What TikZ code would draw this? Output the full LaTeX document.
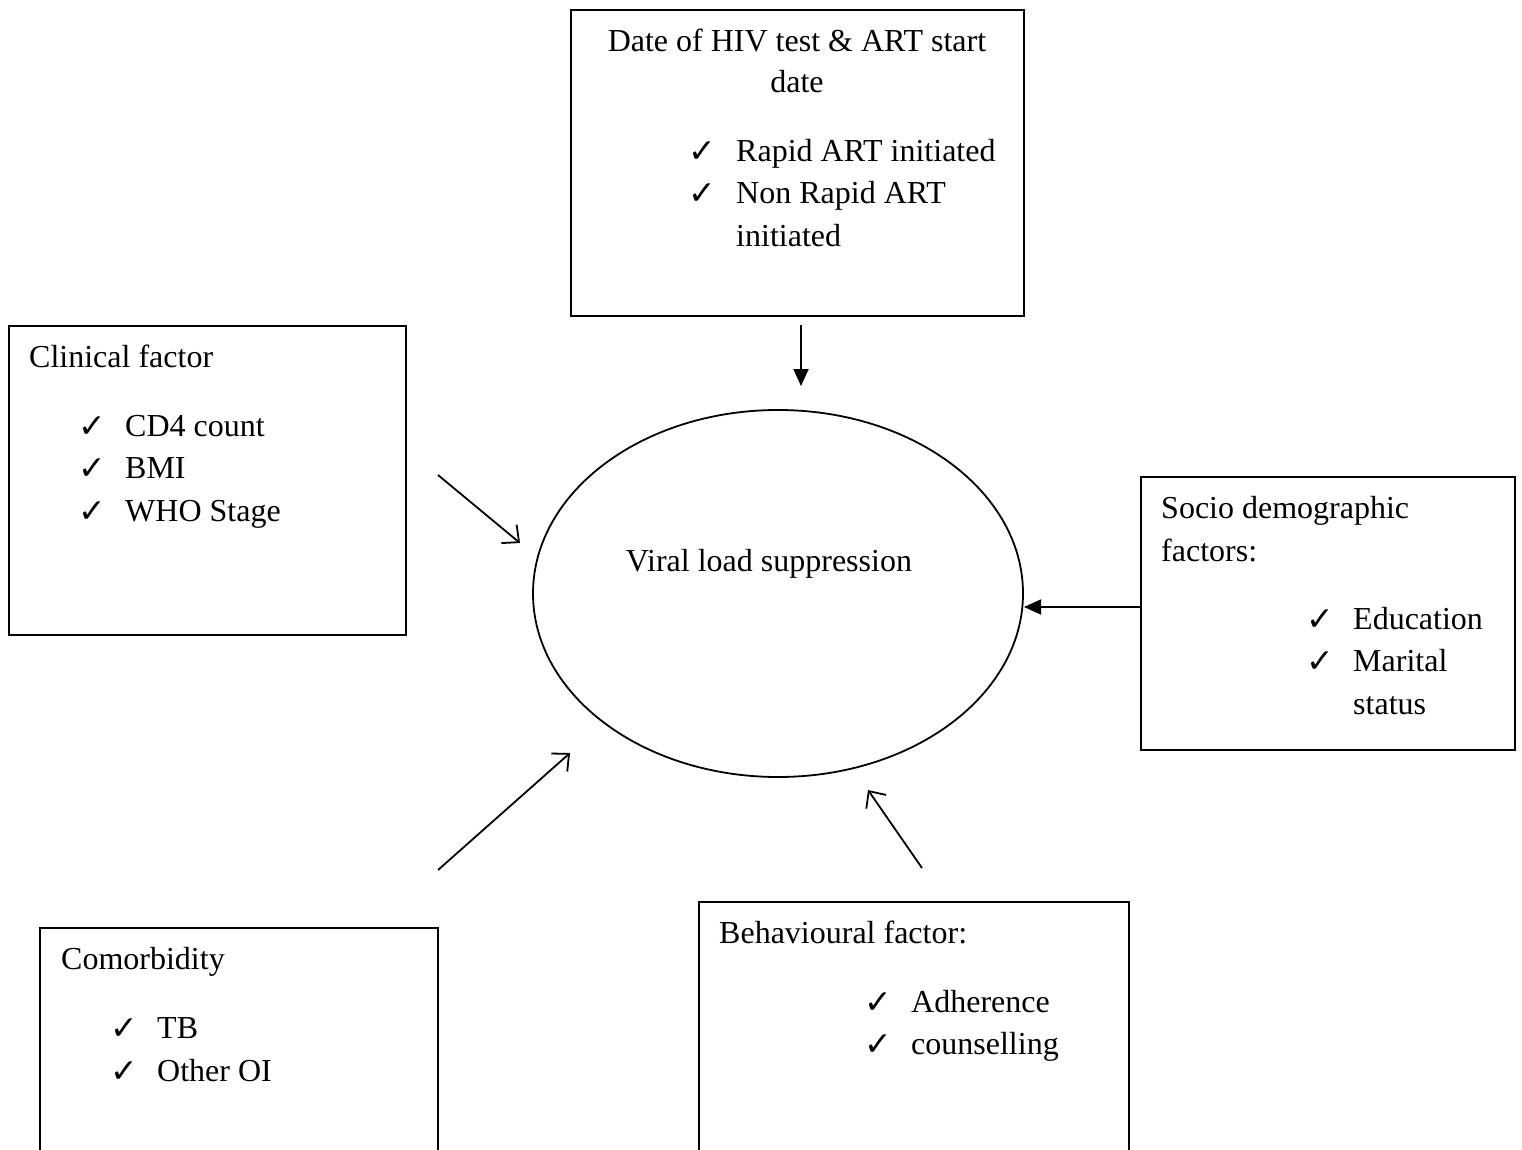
\documentclass[tikz,border=0pt]{standalone}
\usepackage{fontspec}
\setmainfont{Liberation Serif}
\newfontfamily\chkfont{DejaVu Sans}
\usetikzlibrary{arrows.meta,shapes.geometric}
\tikzset{
  box/.style={draw, line width=1.8, rectangle, inner sep=0, fill=none},
  txt/.style={inner sep=0, anchor=base west, font=\fontsize{32}{43}\selectfont},
  ctxt/.style={inner sep=0, anchor=base, font=\fontsize{32}{43}\selectfont},
  chk/.style={inner sep=0, anchor=base west, font=\chkfont\fontsize{33}{36}\selectfont},
  filledarrow/.style={line width=1.8, -{Triangle[length=17,width=15]}},
  openarrow/.style={line width=1.8, -{Straight Barb[length=13,width=24,line width=1.8]}},
}
\begin{document}
\begin{tikzpicture}[x=1pt,y=-1pt]
\useasboundingbox (0,0) rectangle (1522,1150);
\clip (0,0) rectangle (1522,1150);
% boxes
\node[box, minimum width=453, minimum height=306] (topbox) at (797.5,163) {};
\node[box, minimum width=397, minimum height=309] (clinbox) at (207.5,480.5) {};
\node[box, minimum width=374, minimum height=273] (sociobox) at (1328,613.5) {};
\node[box, minimum width=398, minimum height=400] (comorbox) at (239,1128) {};
\node[box, minimum width=430, minimum height=400] (behavbox) at (914,1102) {};
\node[draw, line width=1.8, ellipse, minimum width=490, minimum height=367, inner sep=0] (vl) at (778,593.5) {};
% top box text
\node[ctxt] (t1) at (797,52) {Date of HIV test \& ART start};
\node[ctxt] (t2) at (797,93) {date};
\node[chk] (t3c) at (688,163) {✓};
\node[txt] (t3) at (736,162) {Rapid ART initiated};
\node[chk] (t4c) at (688,205) {✓};
\node[txt] (t4) at (736,204) {Non Rapid ART};
\node[txt] (t5) at (736,247) {initiated};
% clinical
\node[txt] (c1) at (29,367) {Clinical factor};
\node[chk] (c2c) at (78,437) {✓};
\node[txt] (c2) at (125,436) {CD4 count};
\node[chk] (c3c) at (78,479) {✓};
\node[txt] (c3) at (125,478) {BMI};
\node[chk] (c4c) at (78,522) {✓};
\node[txt] (c4) at (125,521) {WHO Stage};
% ellipse text
\node[ctxt] (v1) at (769,571) {Viral load suppression};
% socio
\node[txt] (s1) at (1161,518) {Socio demographic};
\node[txt] (s2) at (1161,561) {factors:};
\node[chk] (s3c) at (1306,630) {✓};
\node[txt] (s3) at (1353,629) {Education};
\node[chk] (s4c) at (1306,672) {✓};
\node[txt] (s4) at (1353,671) {Marital};
\node[txt] (s5) at (1353,714) {status};
% comorbidity
\node[txt] (m1) at (61,969) {Comorbidity};
\node[chk] (m2c) at (110,1039) {✓};
\node[txt] (m2) at (157,1038) {TB};
\node[chk] (m3c) at (110,1082) {✓};
\node[txt] (m3) at (157,1081) {Other OI};
% behavioural
\node[txt] (b1) at (719,943) {Behavioural factor:};
\node[chk] (b2c) at (864,1013) {✓};
\node[txt] (b2) at (911,1012) {Adherence};
\node[chk] (b3c) at (864,1055) {✓};
\node[txt] (b3) at (911,1054) {counselling};
% arrow endpoints
\coordinate (a1s) at (801,325);
\coordinate (a1e) at (801,386);
\coordinate (a2s) at (438,475);
\coordinate (a2e) at (520,543);
\coordinate (a3s) at (1141,607);
\coordinate (a3e) at (1024,607);
\coordinate (a4s) at (438,870);
\coordinate (a4e) at (570,753);
\coordinate (a5s) at (922,868);
\coordinate (a5e) at (868,790);
\draw[filledarrow] (a1s) -- (a1e);
\draw[openarrow] (a2s) -- (a2e);
\draw[filledarrow] (a3s) -- (a3e);
\draw[openarrow] (a4s) -- (a4e);
\draw[openarrow] (a5s) -- (a5e);
\end{tikzpicture}
\end{document}
